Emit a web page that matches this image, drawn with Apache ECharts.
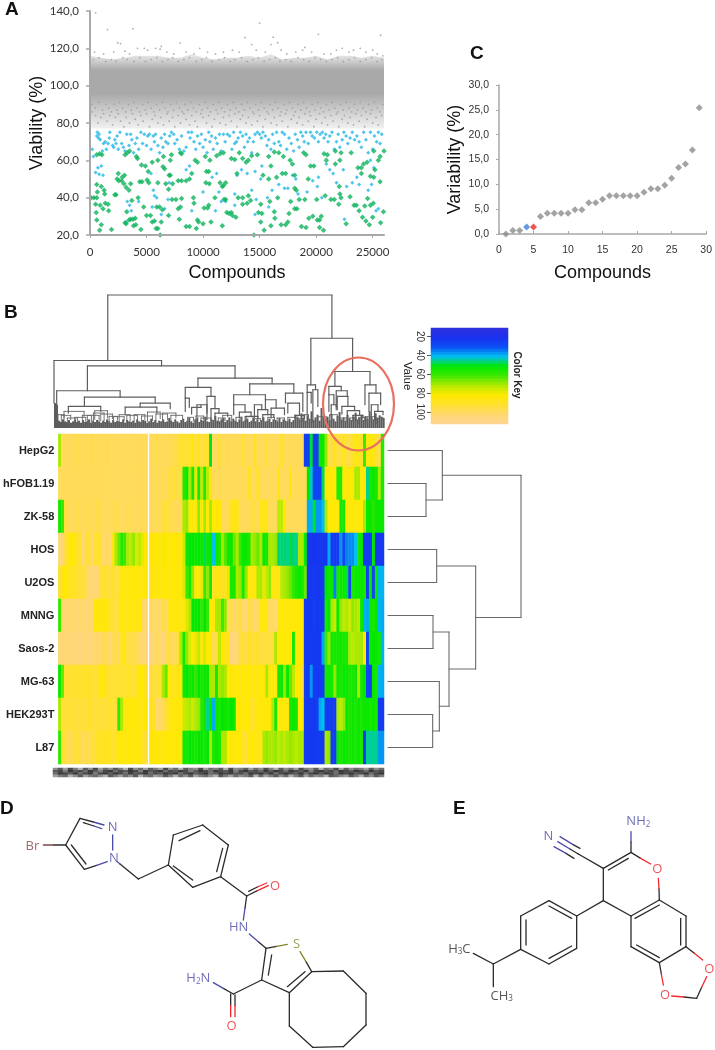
<!DOCTYPE html>
<html>
<head>
<meta charset="utf-8">
<title>Screening figure</title>
<script src="https://cdn.jsdelivr.net/npm/echarts@6/dist/echarts.min.js"></script>
<style>
  html,body{margin:0;padding:0;background:#fff;}
  #main{width:715px;height:1050px;}
</style>
</head>
<body>
<div id="main"></div>
<script>
// ---- panel A: dense band envelope, per 1000 compounds
const binX = [0,1000,2000,3000,4000,5000,6000,7000,8000,9000,10000,11000,12000,13000,14000,15000,16000,17000,18000,19000,20000,21000,22000,23000,24000,25000,26000];
const bandTop = [116,115,114,115,116,116,116,115,115,117,115,114,115,115,116,115,117,114,115,115,116,114,116,116,115,116,115];
const bandLow = [77,77,77,77,77,77,77,77,77,77,77,77,77,77,77,77,77,77,77,77,77,77,77,77,77,77,77];
const grayPoints = [
[500,139],[1550,130],[3800,130.5],[2450,123],[2700,122.5],[6300,121],[6200,119.5],[7980,122.8],[9200,117],[9700,120],[13700,125.8],[14300,122],[15000,133.5],[16200,126],[16600,123],[16000,122],[20200,127.5],[19000,120.5],[25700,127],[23900,120],[22300,120],[21800,119],[25000,119],[4200,120],[4800,120],[5100,119],[400,118],[1200,117],[2100,118],[3100,118.5],[3500,117],[5800,120],[6800,118],[7400,117],[8500,118],[10400,118],[11100,117],[11800,118],[12600,119],[13200,118],[14700,119],[15500,118],[16900,119],[17400,117],[18200,118],[18800,119],[19600,118],[20700,117],[21300,117],[22900,118],[23300,119],[24400,118],[25400,117],[25900,116],
[300,114],[800,115],[1400,113],[1900,114],[2300,113],[2900,115],[3300,114],[3900,113],[4400,115],[4900,113],[5400,114],[5900,115],[6400,113],[6900,114],[7300,115],[7800,113],[8300,114],[8800,115],[9400,113],[9900,114],[10300,115],[10800,113],[11400,114],[11900,115],[12400,113],[12800,114],[13400,115],[13900,113],[14400,114],[14900,115],[15400,113],[15900,114],[16400,115],[16800,113],[17300,114],[17800,113],[18400,115],[18900,114],[19400,113],[19900,115],[20400,114],[20900,113],[21400,114],[21900,115],[22400,113],[22900,114],[23400,115],[23900,113],[24400,114],[24900,115],[25400,113],[25800,114],
[200,86],[500,84],[700,80],[950,83],[1200,85],[1500,81],[1750,84],[2000,79],[2250,83],[2500,85],[2700,81],[3000,78],[3200,83],[3500,80],[3750,85],[4000,82],[4250,79],[4500,84],[4700,81],[5000,85],[5250,78],[5500,82],[5750,84],[6000,80],[6250,83],[6500,79],[6800,85],[7000,81],[7300,83],[7500,78],[7800,84],[8000,80],[8300,85],[8500,82],[8800,79],[9000,84],[9300,81],[9500,78],[9800,85],[10000,83],[10300,80],[10500,84],[10800,78],[11000,82],[11300,85],[11500,80],[11800,83],[12000,79],[12300,84],[12500,81],[12800,85],[13000,78],[13300,82],[13500,84],[13800,80],[14000,83],[14300,79],[14500,85],[14800,81],[15000,84],[15300,78],[15500,82],[15800,85],[16000,80],[16300,83],[16500,79],[16800,84],[17000,81],[17300,85],[17500,78],[17800,82],[18000,84],[18300,80],[18500,83],[18800,79],[19000,85],[19300,81],[19500,84],[19800,78],[20000,82],[20300,85],[20500,80],[20800,83],[21000,79],[21300,84],[21500,81],[21800,85],[22000,78],[22300,82],[22500,84],[22800,80],[23000,83],[23300,79],[23500,85],[23800,81],[24000,84],[24300,78],[24500,82],[24800,85],[25000,80],[25300,83],[25500,79],[25800,84],
[150,90],[450,88],[800,91],[1100,87],[1400,90],[1650,88],[1900,86],[2150,90],[2400,87],[2600,91],[2900,88],[3150,86],[3400,90],[3650,87],[3900,91],[4150,88],[4400,86],[4650,90],[4900,87],[5150,91],[5400,88],[5650,86],[5900,90],[6150,87],[6400,91],[6650,88],[6900,86],[7150,90],[7400,87],[7650,91],[7900,88],[8150,86],[8400,90],[8650,87],[8900,91],[9150,88],[9400,86],[9650,90],[9900,87],[10150,91],[10400,88],[10650,86],[10900,90],[11150,87],[11400,91],[11650,88],[11900,86],[12150,90],[12400,87],[12650,91],[12900,88],[13150,86],[13400,90],[13650,87],[13900,91],[14150,88],[14400,86],[14650,90],[14900,87],[15150,91],[15400,88],[15650,86],[15900,90],[16150,87],[16400,91],[16650,88],[16900,86],[17150,90],[17400,87],[17650,91],[17900,88],[18150,86],[18400,90],[18650,87],[18900,91],[19150,88],[19400,86],[19650,90],[19900,87],[20150,91],[20400,88],[20650,86],[20900,90],[21150,87],[21400,91],[21650,88],[21900,86],[22150,90],[22400,87],[22650,91],[22900,88],[23150,86],[23400,90],[23650,87],[23900,91],[24150,88],[24400,86],[24650,90],[24900,87],[25150,91],[25400,88],[25650,86],[25900,90]
];
const bluePoints = [
[200,66],[300,62],[600,73],[650,75],[750,72],[800,74],[900,71],[1100,65],[1200,69],[1350,70],[1450,66],[1600,69],[1700,72],[1750,75],[2000,68],[2100,67],[2200,71],[2300,69],[2400,73],[2500,66],[2650,75],[2800,69],[2950,67],[3100,65],[3250,74],[3450,68],[3600,74],[3700,71],[3850,64],[4000,69],[4150,72],[4300,66],[4500,75],[4650,69],[4800,74],[5000,68],[5100,73],[5250,74],[5400,66],[5600,73],[5700,70],[5800,74],[6000,68],[6150,64],[6300,72],[6450,67],[6600,74],[6700,70],[6900,69],[7050,73],[7200,75],[7400,74],[7500,69],[7700,71],[7900,66],[8100,73],[8300,65],[8500,67],[8700,75],[8850,72],[9000,75],[9200,70],[9350,66],[9500,73],[9700,69],[9850,74],[10000,67],[10200,71],[10350,64],[10500,75],[10600,70],[10750,73],[10900,66],[11100,72],[11250,69],[11450,74],[11600,65],[11800,74],[11950,70],[12150,74],[12350,73],[12550,66],[12700,75],[12800,69],[12950,70],[13100,72],[13300,75],[13500,73],[13650,67],[13800,74],[13950,70],[14100,72],[14300,64],[14450,70],[14600,74],[14800,75],[15000,74],[15150,72],[15300,75],[15500,73],[15650,68],[15800,71],[16000,66],[16150,74],[16300,69],[16500,75],[16700,70],[16850,68],[17000,75],[17200,74],[17400,66],[17600,72],[17800,69],[18000,65],[18150,74],[18350,71],[18500,67],[18650,75],[18800,73],[18950,70],[19100,75],[19300,69],[19500,75],[19650,73],[19850,72],[20050,75],[20200,70],[20350,74],[20550,75],[20700,72],[20850,74],[21050,70],[21200,73],[21400,75],[21600,66],[21800,70],[21950,74],[22100,67],[22300,71],[22450,75],[22650,73],[22800,69],[23000,72],[23200,75],[23400,71],[23600,73],[23800,70],[24000,67],[24200,75],[24400,71],[24600,64],[24800,75],[25000,66],[25150,73],[25350,70],[25500,75],[25650,69],[25800,74],
[500,53.5],[800,52.5],[1150,52],[1000,57],[700,56],[3300,38],[3500,36],[3650,33],[4300,38],[3200,27],[5400,53],[5600,44],[5700,41],[5900,40],[5500,35],[6300,31],[6600,34],[6900,39],[7000,48],[8500,55],[8800,57],[9000,33],[10000,43],[10800,51],[11200,53],[11400,43],[11100,33],[11600,38],[12000,38],[12800,36],[13000,52],[12800,42],[13400,55],[13900,53],[14300,44],[14600,54],[14700,39],[14600,31],[15100,50],[15200,57],[15700,40],[15800,35],[16100,44],[16700,47],[17200,45],[17500,45],[17900,52],[18200,50],[18400,42],[19200,43],[19700,49],[20100,46],[20200,51],[20500,40],[20900,58],[21200,55],[21500,53],[21800,48],[22400,55],[22700,46],[22500,28.5],[23200,48],[23600,51],[23800,47],[24600,44],[24900,47],[25500,34],[25300,33],[25100,56],[24800,60]
];
const greenPoints = [
[100,40],[350,40],[600,40],[600,63],[850,63.5],[1050,63],[600,47],[1000,46],[650,43],[1250,44],[1300,42],[500,36.5],[900,36],[1150,34],[1350,37],[1600,36.5],[1650,33],[550,32],[600,28],[1000,25.5],[850,22.5],[1900,23],[2200,41.5],[2300,41.5],[2500,53],[2400,50],[2550,49],[2800,49],[2850,51],[3000,47.5],[3050,52],[3200,45.5],[3450,44],[3600,47.5],[3700,38.5],[3100,26.5],[3200,26],[3250,32.5],[3450,28],[3600,28.5],[3800,28.5],[3850,25],[4050,25.5],[4000,29],[4250,40],[4500,23],[4400,48.5],[4600,48.5],[4750,35],[5150,54],[5050,49.5],[5200,48],[5000,30.5],[5350,30.5],[5500,27],[5700,27.5],[5900,35],[5850,23.5],[6000,23.5],[6200,20],[6150,35],[6300,27],[6400,33.5],[6450,56.5],[6600,55.5],[6950,44.5],[7000,52],[7100,52],[7300,47.5],[7250,39],[7600,39],[6950,30.5],[7800,34],[8000,35],[8100,39.5],[7900,28.5],[8500,24.5],[8800,24.5],[9150,40],[9200,37],[9600,27],[9400,23.5],[9500,28],[10000,26],[10100,34.5],[10400,34.5],[10500,36],[10550,47.5],[10250,48],[10300,54],[10500,54],[10700,27],[11050,40],[11500,48],[11800,46.5],[12000,48],[11700,46],[11700,25],[11850,39],[12000,39],[12100,32],[12300,31.5],[12500,32],[12600,30.5],[12900,29.5],[13100,40],[13500,36.5],[13500,40],[13900,37],[14000,41],[14200,38.5],[14500,20],[14900,32],[15200,31.5],[15400,22.5],[15100,36.5],[15100,27],[15900,38],[16000,25],[16300,32.5],[16350,29],[16600,40],[16900,25.5],[17300,25.5],[17500,27],[17600,31.5],[17750,38],[18100,34],[18300,34],[18100,45],[18250,44],[18500,39],[18700,24.5],[19000,39],[19100,24],[19350,29],[19700,30],[20050,39],[20100,28],[20300,28],[20450,30],[20300,24],[20650,22.5],[20800,41],[21300,39],[21600,39],[22000,36.5],[22100,42],[22050,46],[22200,40],[22650,26],[23000,40.5],[23350,36],[23550,36],[23800,33],[24100,29.5],[24300,35.5],[24400,27.5],[24700,25.5],[24800,36],[25000,29.5],[25050,37],[24550,39.5],[25700,26.5],[25950,32.5],
[3100,63],[3300,64],[3500,65],[4100,62],[4200,61],[4550,57.5],[4900,57],[5500,59],[6000,60],[6500,62],[7100,60],[7200,63],[8000,64],[8100,63.5],[9300,60],[9500,59],[10200,62],[10600,60],[11200,62.5],[11500,63.5],[11800,64],[12500,61],[12800,60.5],[13000,53],[13200,64],[13500,61],[13800,59],[14000,60],[14300,62.5],[14800,63],[15800,62],[16000,57],[16300,64.5],[16700,64],[17100,62],[17300,53],[17700,60],[17900,58],[18100,52],[18900,64],[19100,63],[19500,57],[19800,57],[19300,50],[20700,63.5],[21000,63],[20900,60],[21700,65],[22200,64],[22100,60],[21700,58],[23100,64],[23700,56],[24000,56],[24200,58],[24500,59],[24000,53],[24800,51.5],[25100,51],[25200,55],[25650,48.5],[25500,60],[25650,62],[26000,65],[25100,65],[15300,52],[15800,50],[16500,51],[17000,53],[8800,50],[9000,53],[8500,49],[8100,49],[7800,49],[6700,47.5],[6000,48]
];
const xTicksA = [0,5000,10000,15000,20000,25000];

// ---- panel C
const variabilityGray = [[1,0],[2,0.7],[3,0.7],[6,3.5],[7,4.2],[8,4.2],[9,4.2],[10,4.2],[11,4.9],[12,4.9],[13,6.3],[14,6.3],[15,7],[16,7.7],[17,7.7],[18,7.7],[19,7.7],[20,7.7],[21,8.4],[22,9.1],[23,9.1],[24,9.8],[25,11.2],[26,13.4],[27,14.1],[28,16.9],[29,25.4]];
const variabilityBlue = [[4,1.4]];
const variabilityRed = [[5,1.4]];

// ---- panel B: heatmap
const cellLines = ['HepG2','hFOB1.19','ZK-58','HOS','U2OS','MNNG','Saos-2','MG-63','HEK293T','L87'];
const rowHepG2 = [72,100,100,100,100,100,98,100,100,100, 100,98,100,100,100,100,98,100,100,100, 100,100,100,100,100,100,100,100,100,100, 100,100,100,98,100,100,100,100,98,98, 96,94,90,96,90,86,96,88,96,92, 92,50,100,100,96,100,100,98,100,100, 100,100,94,100,100,100,92,100,100,100, 94,100,100,100,100,92,100,100,100,100, 100,100,100,26,26,50,26,26,54,54, 70,96,96,90,96,96,88,96,96,92, 88,86,92,62,86,84,86,96,96,58];
const rowHFOB = [100,100,100,100,100,100,100,100,100,100, 100,100,100,100,100,100,100,100,100,100, 100,100,100,100,100,100,100,100,100,100, 100,100,100,100,100,100,100,96,98,92, 100,94,58,54,72,56,80,56,74,58, 74,86,100,100,100,100,100,100,100,100, 100,100,100,100,88,100,100,90,100,100, 100,100,100,100,88,100,100,100,88,100, 100,100,100,100,52,44,28,28,28,48, 84,84,84,84,58,58,84,84,84,84, 72,72,84,84,46,56,54,56,72,56];
const rowZK = [56,62,96,100,100,100,98,100,100,100, 98,100,100,96,100,100,100,100,100,96, 100,100,100,98,100,100,100,100,100,100, 100,100,100,100,100,96,94,96,98,100, 100,98,72,70,84,84,84,70,84,72, 84,72,84,84,84,100,100,100,88,88, 88,100,100,100,100,96,96,100,88,88, 88,100,100,100,74,74,84,100,100,100, 100,100,100,100,40,40,50,38,38,42, 72,84,84,84,84,56,56,84,84,84, 84,84,84,72,54,54,58,54,54,54];
const rowHOS = [106,106,96,86,84,86,92,94,104,96, 94,104,94,92,96,106,98,104,86,72, 66,58,62,72,74,70,78,74,80,84, 88,84,86,84,88,82,84,86,84,84, 86,84,76,54,52,52,54,52,54,48, 54,52,42,54,56,72,64,55,54,66, 72,60,54,54,56,72,70,66,72,54, 56,72,72,70,47,47,48,46,50,47, 46,72,72,54,25,23,23,23,24,24, 23,40,25,25,25,38,28,36,37,37, 42,56,52,25,25,25,52,24,24,24];
const rowU2OS = [92,88,84,88,92,88,94,96,94,100, 104,104,106,104,96,92,94,96,92,96, 94,84,84,86,84,84,86,84,88,84, 84,88,84,86,88,84,84,86,84,84, 86,84,78,62,56,70,84,84,80,62, 70,56,90,86,88,92,90,80,56,56, 72,70,56,70,84,88,84,72,72,80, 74,70,86,84,90,74,72,70,66,60, 56,54,56,66,24,24,25,24,24,26, 52,54,54,36,56,54,54,50,28,56, 54,54,54,56,26,52,28,54,41,41];
const rowMNNG = [60,100,104,104,102,106,104,102,106,104, 104,104,86,84,88,84,86,92,94,96, 92,84,86,88,84,86,90,84,102,104, 104,100,104,102,104,96,102,90,84,86, 84,88,84,78,72,52,54,52,60,52, 60,84,84,72,72,62,70,100,98,104, 100,96,104,104,96,100,104,100,86,84, 86,102,100,104,86,84,86,84,88,84, 86,84,84,25,25,24,26,24,25,25, 56,52,72,76,54,70,74,72,76,70, 72,74,54,41,40,54,56,52,41,40];
const rowSaos = [104,106,104,108,104,106,106,108,106,104, 106,106,104,102,104,98,100,104,100,96, 102,88,86,96,98,96,100,102,106,104, 104,106,104,100,104,106,100,96,102,100, 94,72,56,70,78,84,80,74,84,78, 84,84,98,96,74,84,88,88,108,106, 106,96,94,98,92,94,94,92,96,96, 94,96,94,72,84,84,84,84,84,56, 84,84,84,25,25,25,25,25,25,40, 62,70,56,56,56,54,56,56,72,74, 72,72,72,84,28,54,52,54,56,41];
const rowMG = [54,66,94,92,94,94,92,94,90,94, 92,94,94,92,86,86,92,94,94,92, 94,92,94,90,94,92,94,84,84,90, 92,96,96,94,94,72,66,84,88,90, 86,84,54,52,56,54,60,52,56,54, 54,72,72,56,72,70,72,84,84,86, 84,88,84,86,84,88,84,88,84,84, 72,84,84,84,56,54,70,54,66,74, 84,84,96,26,24,38,25,25,25,25, 56,54,56,70,54,56,54,54,56,56, 54,72,56,52,28,26,54,56,41,40];
const rowHEK = [72,94,94,96,94,94,96,94,96,94, 92,94,96,94,94,96,94,92,94,94, 60,72,84,84,86,84,84,86,88,84, 86,90,92,104,102,100,92,90,86,84, 86,84,76,74,72,76,72,70,58,54, 46,52,40,54,56,52,54,56,52,54, 84,84,86,84,84,96,88,84,86,84, 84,84,72,56,84,84,84,86,56,54, 56,84,84,25,25,25,24,26,40,42, 25,25,25,25,72,74,70,54,56,54, 56,54,56,54,54,56,54,56,25,25];
const rowL87 = [60,94,96,100,98,96,94,98,100,96, 100,94,96,88,90,92,88,90,94,88, 86,84,86,84,84,86,84,86,90,94, 92,84,86,84,88,84,86,84,84,86, 84,84,54,56,52,54,56,52,54,56, 52,72,56,54,56,72,72,84,84,86, 84,84,92,96,84,86,84,88,86,72, 70,72,72,70,74,72,74,72,70,72, 74,72,72,25,25,24,24,25,25,25, 72,70,25,25,54,56,54,54,56,54, 56,54,56,26,46,45,46,46,38,38];
const heatRows = [rowHepG2,rowHFOB,rowZK,rowHOS,rowU2OS,rowMNNG,rowSaos,rowMG,rowHEK,rowL87];
const keyValues = [12.6,15.8,19,22.2,25.4,28.6,31.8,35,38.2,41.4,44.6,47.8,51,54.2,57.4,60.6,63.8,67,70.2,73.4,76.6,79.8,83,86.2,89.4,92.6,95.8,99,102.2,105.4,108.6,111.8];
const keyTicks = [20,40,60,80,100];
// the overprinted column labels under the heatmap, read as grey levels
const stripRow1 = [6,3,7,2,5,8,3,6,2,7,4,6,3,5,8,2,6,4,7,3,5,7,2,6,4,8,3,5,6,2,7,4,5,3,8,2,6,5,3,7,4,6,2,5,8,3,6,4,7,2,5,6,3,8,4,5,2,7,3,6,4,5,7,3,6,4];
const stripRow2 = [3,2,5,1,3,2,4,1,3,5,2,1,4,2,3,1,2,5,1,3,2,1,4,2,3,1,2,5,3,1,2,4,1,2,3,1,5,2,1,3,2,4,1,3,1,2,4,1,2,3,1,5,2,1,3,2,4,1,2,3,1,2,4,1,3,2];
const stripRow3 = [4,1,2,3,1,4,2,1,5,2,1,3,1,2,4,1,3,2,1,4,2,3,1,2,1,4,2,1,3,2,1,4,3,1,2,1,3,2,4,1,2,1,3,1,4,2,1,2,3,1,4,2,1,3,1,2,4,1,2,1,3,2,1,4,2,1];
const stripRow4 = [7,5,4,8,6,3,7,5,4,6,8,3,5,7,4,6,3,8,5,4,7,6,3,5,8,4,6,3,7,5,4,6,8,3,5,7,4,6,5,3,8,4,7,5,3,6,4,8,5,3,7,4,6,5,8,3,4,6,7,3,5,8,4,6,3,5];
const stripRows = [stripRow1,stripRow2,stripRow3,stripRow4];

// ---- panel B: dendrogram over the columns, [left, right, left height, right height, top]
const topMerges = [
[161,832,203,270,400],[0,322,75,187,203],[100,542,112,150,187],[8,198,45,93,112],[91,303,65,75,93],[43,140,45,50,65],[258,348,63,58,75],[213,308,40,45,63],
[431,653,122,133,150],[393,470,90,95,122],[586,718,100,105,133],[538,633,70,85,100],[693,745,75,50,105],
[769,894,130,170,270],[758,783,107,115,130],[841,946,125,130,170],[823,860,100,112,125],[845,878,65,95,112],[931,964,70,105,130],[943,978,50,70,105],
[393,405,50,62,90],[412,440,42,70,62],[428,458,35,45,70],[458,482,25,58,95],[470,494,30,45,58],[482,520,25,35,45],
[538,572,40,48,70],[555,590,30,35,48],[575,610,18,28,35],[633,665,55,60,85],[650,690,30,40,60],
[600,622,32,55,70],[610,640,28,40,55],[625,658,25,32,40],[700,735,45,38,75],[722,750,30,28,38],
[823,838,50,70,100],[848,880,55,65,95],[862,900,42,52,65],[878,915,30,38,52],[895,925,22,30,38],
[758,770,40,75,107],[775,790,18,65,115],[830,845,35,55,70],[950,970,30,50,70],[960,985,25,40,50]
];
const lowMerges = [
[12,30,15,20,40],[22,50,18,25,38],[40,70,12,18,30],[62,95,14,20,32],[85,112,15,18,38],[30,90,30,35,50],[100,135,18,22,38],[118,150,15,20,45],
[122,160,25,30,52],[140,175,22,28,42],[165,190,15,25,35],[178,210,18,22,34],[195,228,14,20,40],[218,250,16,24,38],[240,272,18,25,40],[262,295,15,22,36],
[280,318,20,28,48],[305,340,18,24,42],[325,365,18,30,45],[350,385,15,25,38],
[400,418,15,20,32],[425,448,15,24,36],[440,470,18,22,30],[492,512,14,22,30],[505,532,18,20,38],[545,562,14,22,32],[572,596,18,24,34],
[600,618,15,20,28],[640,660,15,22,32],[668,690,14,20,30],[700,722,18,22,32],[730,745,14,20,28],[748,762,15,25,40],
[790,815,15,20,34],[825,848,18,22,40],[856,875,14,20,30],[885,905,16,22,30],[912,930,14,20,32],[938,960,15,22,34],[965,985,14,24,30]
];
const leafHeights = [75,70,22,18,26,20,18,24,16,20,26,18,22,16,24,18,20,26,16,22,18,24,20,16,22,18,26,20,16,24,18,22,20,18,26,16,24,20,18,22,16,26,20,18,24,22,16,20,28,18,24,16,22,20,26,18,20,30,22,18,26,20,16,24,28,18,22,30,20,16,26,32,18,24,22,34,20,18,28,24,36,22,20,26,30,18,24,32,20,28,22,18,26,34,20,24,28,18,22,30,20,26,18,24,32,20,22,28,18,26,24,20,30,18,26,22,20,28,18,24,40,34,26,44,30,22,38,28,50,24,32,40,22,60,36,26,34,24,42,28,20,36,48,26,32,22,40,28,24,34,46,26,30,40,24,36,28,50,32,26,44,30,38,34,30];

// ---- panel B: dendrogram beside the rows, [row a, row b, height a, height b, top]
const rowMerges = [
[1,2,0,0,114],[0,1.5,0,114,163],[3,4,0,0,146],[5,6,0,0,135],[8,9,0,0,134],[7,8.5,0,134,154],[5.5,7.75,135,154,183],[3.5,6.62,146,183,263],[0.75,5.06,163,263,399]
];

// ---- panels D and E: bonds as [x1,y1,x2,y2] in drawing units, atom labels as [x,y,text]
const bondsDDark = [
[197,165,240,85],[240,85,280,96],[250,98,282,108],[253,238,290,226],[253,238,197,165],[258,222,214,165],[197,165,160,165],[360,222,415,267],[415,267,505,225],
[505,225,520,135],[520,135,608,105],[608,105,685,165],[685,165,662,260],[662,260,578,292],[578,292,505,225],[537,152,600,122],[668,175,650,245],[520,228,578,270],
[662,260,740,318],[740,318,772,302],[746,304,772,291],[740,318,735,354],[775,455,798,475],[798,475,830,469],[918,515,935,545],[935,545,868,608],[915,545,862,590],[868,608,785,570],[785,570,798,475],[805,555,815,495],[785,570,700,612],[700,612,670,595],
[692,612,692,646],[705,615,705,646],[935,545,1030,543],[1030,543,1098,610],[1098,610,1098,705],[1098,705,1030,770],[1030,770,938,772],[938,772,868,708],[868,708,868,608]
];
const bondsDBlue = [[280,96,312,105],[282,108,305,116],[338,135,338,180],[322,215,290,226],[360,222,352,215],[735,354,730,390],[748,432,775,455],[670,595,640,578]];
const bondsDRed = [[772,302,805,287],[772,291,800,279],[692,646,692,680],[705,646,705,680]];
const bondsDBrown = [[160,165,130,165]];
const bondsDOlive = [[830,469,862,463],[900,485,918,515]];
const labelsDBlue = [[338,112,'N'],[342,205,'N'],[716,412,'HN'],[595,565,'H{s|2}N']];
const labelsDRed = [[825,290,'O'],[695,710,'O']];
const labelsDBrown = [[97,170,'Br']];
const labelsDOlive = [[890,462,'S']];

const bondsEDark = [
[603,187,603,156],[603,187,632,205],[687,297,688,330],[603,187,520,235],[595,205,535,240],[520,235,445,192],[432,205,408,190],[445,192,420,177],[450,175,428,163],[520,235,520,332],
[520,332,440,378],[520,332,603,378],[603,378,688,330],[688,330,768,378],[768,378,768,470],[768,470,688,518],[688,518,603,470],[603,470,603,378],[615,385,688,345],[752,385,752,465],[620,465,688,503],
[768,470,793,490],[688,518,694,552],[762,621,800,625],[800,625,815,592],
[440,378,357,332],[357,332,272,378],[272,378,272,478],[272,478,357,522],[357,522,440,475],[440,475,440,378],[425,385,357,348],[288,390,288,465],[357,505,425,468],
[272,478,190,522],[190,522,130,490],[190,522,190,590]
];
const bondsEBlue = [[603,156,603,125],[408,190,372,170],[420,177,383,155],[428,163,390,140]];
const bondsERed = [[632,205,662,222],[685,265,687,297],[793,490,818,510],[694,552,700,585],[725,618,762,621],[815,592,830,560]];
const labelsEBlue = [[625,95,'NH{s|2}'],[355,140,'N']];
const labelsERed = [[682,238,'O'],[838,537,'O'],[705,617,'O']];
const labelsEDark = [[88,477,'H{s|3}C'],[215,618,'CH{s|3}']];

// ---- helpers
const fmtComma = v => v.toFixed(1).replace('.', ',');
const arial = '"Liberation Sans", Arial, sans-serif';

function segments(name, xi, yi, rows, color, width) {
  return {
    name: name, type: 'custom', xAxisIndex: xi, yAxisIndex: yi, data: rows, silent: true, clip: false, z: 4,
    renderItem: function (params, api) {
      const a = api.coord([api.value(0), api.value(1)]);
      const b = api.coord([api.value(2), api.value(3)]);
      return {type: 'line', shape: {x1: a[0], y1: a[1], x2: b[0], y2: b[1]}, style: {stroke: color, lineWidth: width, lineCap: 'round'}};
    }
  };
}
function uShapes(list) {
  const out = [];
  list.forEach(m => {
    out.push([m[0], m[2], m[0], m[4]], [m[0], m[4], m[1], m[4]], [m[1], m[3], m[1], m[4]]);
  });
  return out;
}
function uShapesSideways(list) {
  const out = [];
  list.forEach(m => {
    out.push([m[2], m[0], m[4], m[0]], [m[4], m[0], m[4], m[1]], [m[3], m[1], m[4], m[1]]);
  });
  return out;
}
function atomLabels(name, xi, yi, rows, color, size) {
  return {
    name: name, type: 'scatter', xAxisIndex: xi, yAxisIndex: yi, data: rows, symbolSize: 0, silent: true, z: 5,
    label: {
      show: true, position: 'inside', color: color, fontFamily: '"Open Sans", sans-serif', fontSize: size,
      formatter: p => p.data[2],
      rich: {s: {fontSize: size * 0.62, color: color, verticalAlign: 'bottom', padding: [6, 0, 0, 0], fontFamily: '"Open Sans", sans-serif'}}
    }
  };
}
function hiddenAxis(grid, min, max, inverse) {
  return {type: 'value', gridIndex: grid, min: min, max: max, inverse: !!inverse, show: false};
}

const heatData = [];
heatRows.forEach((row, r) => row.forEach((v, c) => heatData.push([c, r, v])));
const stripData = [];
stripRows.forEach((row, r) => row.forEach((v, c) => stripData.push([c, r, v])));
const keyData = keyValues.map((v, i) => [0, i, v]);
const leafData = leafHeights.map((h, i) => [i * 6 + 3, h]);

const chart = echarts.init(document.getElementById('main'), null, {renderer: 'canvas'});
const axisGray = '#a8a8a8';

const option = {
  animation: false,
  backgroundColor: '#fff',
  title: [
    {text: 'A', left: 5, top: 0},
    {text: 'C', left: 470, top: 44},
    {text: 'B', left: 4, top: 303},
    {text: 'D', left: 0, top: 799},
    {text: 'E', left: 453, top: 799}
  ].map(t => Object.assign(t, {padding: 0, textStyle: {fontFamily: arial, fontWeight: 'bold', fontSize: 19, color: '#111'}})),
  grid: [
    {left: 90, top: 11, width: 294, height: 224},
    {left: 499, top: 85, width: 208, height: 149},
    {left: 54, top: 295, width: 330, height: 133},
    {left: 54, top: 434, width: 330, height: 330},
    {left: 388, top: 434, width: 133, height: 330},
    {left: 431, top: 328, width: 77, height: 96},
    {left: 53, top: 768, width: 331, height: 9},
    {left: 0, top: 790, width: 380, height: 260},
    {left: 430, top: 790, width: 285, height: 240}
  ],
  xAxis: [
    {type: 'value', gridIndex: 0, min: 0, max: 26000, z: 6,
      axisLine: {onZero: false, lineStyle: {color: axisGray, width: 2}}, splitLine: {show: false},
      axisTick: {customValues: xTicksA, length: 3, lineStyle: {color: axisGray}},
      axisLabel: {customValues: xTicksA, formatter: v => String(v), fontFamily: 'Lato', fontSize: 11.5, color: '#333', margin: 11},
      name: 'Compounds', nameLocation: 'middle', nameGap: 29, nameTextStyle: {fontFamily: arial, fontSize: 18, color: '#111'}},
    {type: 'value', gridIndex: 1, min: 0, max: 30, interval: 5,
      axisLine: {onZero: false, lineStyle: {color: axisGray, width: 1.5}}, splitLine: {show: false},
      axisTick: {length: 3, inside: true, lineStyle: {color: axisGray}},
      axisLabel: {fontFamily: arial, fontSize: 10.5, color: '#333', margin: 11},
      name: 'Compounds', nameLocation: 'middle', nameGap: 30, nameTextStyle: {fontFamily: arial, fontSize: 18, color: '#111'}},
    hiddenAxis(2, 0, 988),
    {type: 'category', gridIndex: 3, data: rowHepG2.map((v, i) => i), show: false},
    hiddenAxis(4, 0, 399),
    {type: 'category', gridIndex: 5, data: [0], show: false},
    {type: 'category', gridIndex: 6, data: stripRow1.map((v, i) => i), show: false},
    hiddenAxis(7, 0, 1140),
    hiddenAxis(8, 0, 855)
  ],
  yAxis: [
    {type: 'value', gridIndex: 0, min: 20, max: 140, interval: 20, z: 6,
      axisLine: {show: true, onZero: false, lineStyle: {color: axisGray, width: 2}}, splitLine: {show: false},
      axisTick: {show: true, length: 4, lineStyle: {color: axisGray, width: 1.5}},
      axisLabel: {formatter: fmtComma, fontFamily: 'Lato', fontSize: 11.5, color: '#333', margin: 11},
      name: 'Viability (%)', nameLocation: 'middle', nameGap: 41, nameTextStyle: {fontFamily: arial, fontSize: 18, color: '#111'}},
    {type: 'value', gridIndex: 1, min: 0, max: 30, interval: 5,
      axisLine: {show: true, onZero: false, lineStyle: {color: axisGray, width: 1.5}}, splitLine: {show: false},
      axisTick: {show: true, length: 3, lineStyle: {color: axisGray}},
      axisLabel: {formatter: fmtComma, fontFamily: arial, fontSize: 10.5, color: '#333', margin: 10},
      name: 'Variability (%)', nameLocation: 'middle', nameGap: 35, nameTextStyle: {fontFamily: arial, fontSize: 18, color: '#111'}},
    hiddenAxis(2, 0, 400),
    {type: 'category', gridIndex: 3, inverse: true, data: cellLines,
      axisLine: {show: false}, axisTick: {show: false},
      axisLabel: {fontFamily: arial, fontWeight: 'bold', fontSize: 11, color: '#222', margin: 4}},
    hiddenAxis(4, -0.5, 9.5, true),
    {type: 'category', gridIndex: 5, inverse: true, data: keyValues, show: false},
    {type: 'category', gridIndex: 6, inverse: true, data: [0,1,2,3], show: false},
    hiddenAxis(7, 0, 780, true),
    hiddenAxis(8, 0, 720, true),
    // scale printed beside the colour key
    {type: 'value', gridIndex: 5, min: 11, max: 113, inverse: true, position: 'left',
      axisLine: {show: false}, splitLine: {show: false},
      axisTick: {show: true, length: 4, customValues: keyTicks, lineStyle: {color: '#555'}},
      axisLabel: {customValues: keyTicks, rotate: -90, fontFamily: arial, fontSize: 10, color: '#333', margin: 6},
      name: 'Value', nameLocation: 'middle', nameGap: 18, nameRotate: -90, nameTextStyle: {fontFamily: arial, fontSize: 11.5, color: '#222'}}
  ],
  visualMap: [
    {type: 'continuous', show: false, seriesIndex: [5, 6], dimension: 2, min: 11, max: 114,
      inRange: {color: ['#3030dc','#1a30ee','#0a50f5','#00c0f0','#00e800','#40e800','#b4ea00','#ffe900','#ffe030','#ffd870','#fcd494']}},
    {type: 'continuous', show: false, seriesIndex: 7, dimension: 2, min: 1, max: 8,
      inRange: {color: ['#383838','#b0b0b0']}}
  ],
  series: [
    {name: 'band', type: 'line', xAxisIndex: 0, yAxisIndex: 0, data: binX.map((x, i) => [x, bandTop[i]]), symbol: 'none', silent: true, z: 1,
      lineStyle: {width: 0},
      areaStyle: {opacity: 1, origin: 'start', color: new echarts.graphic.LinearGradient(0, 0, 0, 1, [
        {offset: 0, color: '#ececec'}, {offset: 0.09, color: '#a9a9a9'}, {offset: 0.22, color: '#a9a9a9'}, {offset: 0.3, color: '#c8c8c8'}, {offset: 0.41, color: '#f0f0f0'}, {offset: 1, color: '#f0f0f0'}
      ])}},
    {name: 'band floor', type: 'line', xAxisIndex: 0, yAxisIndex: 0, data: binX.map((x, i) => [x, bandLow[i]]), symbol: 'none', silent: true, z: 1,
      lineStyle: {width: 0}, areaStyle: {color: '#fff', opacity: 1, origin: 'start'}},
    {name: 'inactive', type: 'scatter', xAxisIndex: 0, yAxisIndex: 0, data: grayPoints, symbolSize: 1.8, itemStyle: {color: '#9c9c9c'}, silent: true, clip: false, z: 3},
    {name: 'partial', type: 'scatter', xAxisIndex: 0, yAxisIndex: 0, data: bluePoints, symbol: 'diamond', symbolSize: 4, itemStyle: {color: '#22b6e4'}, silent: true, clip: false, z: 4},
    {name: 'active', type: 'scatter', xAxisIndex: 0, yAxisIndex: 0, data: greenPoints, symbol: 'diamond', symbolSize: 5.5, itemStyle: {color: '#0cb35c'}, silent: true, clip: false, z: 5},
    {name: 'viability', type: 'heatmap', xAxisIndex: 3, yAxisIndex: 3, data: heatData, progressive: 0, silent: true,
      markLine: {silent: true, symbol: 'none', label: {show: false}, lineStyle: {color: '#fff', width: 1.2, type: 'solid'}, data: [{xAxis: 30}]}},
    {name: 'key', type: 'heatmap', xAxisIndex: 5, yAxisIndex: 5, data: keyData, progressive: 0, silent: true},
    {name: 'column labels', type: 'heatmap', xAxisIndex: 6, yAxisIndex: 6, data: stripData, progressive: 0, silent: true},
    {name: 'variability', type: 'scatter', xAxisIndex: 1, yAxisIndex: 1, data: variabilityGray, symbol: 'diamond', symbolSize: 7, itemStyle: {color: '#8c8c8c'}, silent: true, clip: false},
    {name: 'variability blue', type: 'scatter', xAxisIndex: 1, yAxisIndex: 1, data: variabilityBlue, symbol: 'diamond', symbolSize: 7, itemStyle: {color: '#3f7fe0'}, silent: true},
    {name: 'variability red', type: 'scatter', xAxisIndex: 1, yAxisIndex: 1, data: variabilityRed, symbol: 'diamond', symbolSize: 7, itemStyle: {color: '#ee2a24'}, silent: true},
    {name: 'leaves', type: 'bar', xAxisIndex: 2, yAxisIndex: 2, data: leafData, barWidth: 2, itemStyle: {color: '#5c5c5c'}, silent: true},
    segments('low merges', 2, 2, uShapes(lowMerges), '#666', 0.9),
    segments('column tree', 2, 2, uShapes(topMerges), '#5e5e5e', 1.2),
    segments('row tree', 4, 4, uShapesSideways(rowMerges), '#6a6a6a', 1.1),
    segments('D dark', 7, 7, bondsDDark, '#2b2b2b', 1.3),
    segments('D blue', 7, 7, bondsDBlue, '#4a4aa8', 1.3),
    segments('D red', 7, 7, bondsDRed, '#f0282c', 1.3),
    segments('D brown', 7, 7, bondsDBrown, '#7d4a4a', 1.3),
    segments('D olive', 7, 7, bondsDOlive, '#85852a', 1.3),
    segments('E dark', 8, 8, bondsEDark, '#2b2b2b', 1.3),
    segments('E blue', 8, 8, bondsEBlue, '#4a4aa8', 1.3),
    segments('E red', 8, 8, bondsERed, '#f0282c', 1.3),
    atomLabels('D blue labels', 7, 7, labelsDBlue, '#4a4aa8', 13),
    atomLabels('D red labels', 7, 7, labelsDRed, '#f0282c', 13),
    atomLabels('D brown labels', 7, 7, labelsDBrown, '#7d4a4a', 13),
    atomLabels('D olive labels', 7, 7, labelsDOlive, '#85852a', 13),
    atomLabels('E blue labels', 8, 8, labelsEBlue, '#4a4aa8', 13),
    atomLabels('E red labels', 8, 8, labelsERed, '#f0282c', 13),
    atomLabels('E dark labels', 8, 8, labelsEDark, '#2b2b2b', 13)
  ],
  graphic: [
    {type: 'ellipse', left: 320.5, top: 355, z: 100, silent: true,
      shape: {cx: 35.5, cy: 46.5, rx: 35.5, ry: 46.5},
      style: {fill: 'none', stroke: '#e8705f', lineWidth: 2.2}},
    {type: 'text', x: 517, y: 375, rotation: -Math.PI / 2, z: 100, silent: true,
      style: {text: 'Color Key', fontFamily: arial, fontWeight: 'bold', fontSize: 10, fill: '#222', textAlign: 'center', textVerticalAlign: 'middle'}}
  ]
};
chart.setOption(option);
</script>
</body>
</html>
